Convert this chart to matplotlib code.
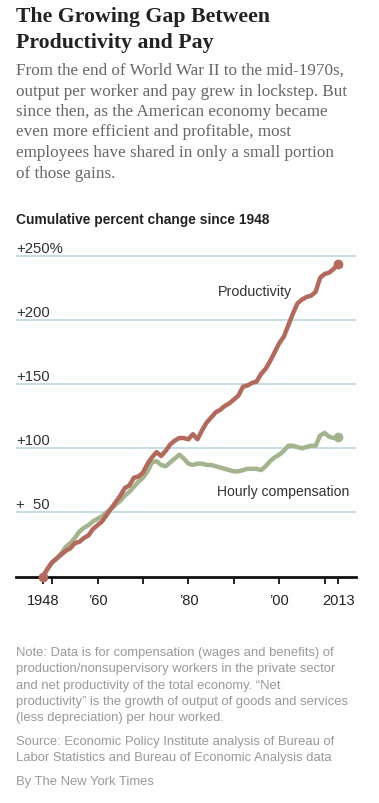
import matplotlib
matplotlib.use("Agg")
import matplotlib.pyplot as plt

# Data, cumulative percent change since 1948
years = list(range(1948, 2014))
productivity = [
    0, 6, 11, 14, 17, 20, 22, 26, 27, 30,
    32, 37, 40, 43, 48, 53, 58, 63, 69, 71,
    77, 78, 81, 88, 93, 97, 94, 98, 103, 106,
    108, 108, 107, 111, 107, 114, 120, 124, 128, 130,
    133, 135, 138, 141, 148, 149, 151, 152, 158, 162,
    168, 175, 182, 187, 196, 205, 213, 216, 218, 219,
    222, 233, 236, 237, 240, 243.7,
]
compensation = [
    0, 6, 11, 14, 18, 23, 26, 30, 35, 38,
    40, 43, 45, 47, 50, 53, 56, 59, 63, 66,
    70, 74, 77, 82, 89, 90, 87, 86, 89, 92,
    95, 92, 88, 87, 88, 88, 87, 87, 86, 85,
    84, 83, 82, 82, 83, 84, 84, 84, 83, 86,
    90, 93, 95, 98, 102, 102, 101, 100, 101, 102,
    102, 110, 112, 109, 108, 109,
]

y_ticks = [50, 100, 150, 200, 250]
y_labels = ["+  50", "+100", "+150", "+200", "+250%"]
x_ticks = [1948, 1950, 1960, 1970, 1980, 1990, 2000, 2010, 2013]
x_labels = ["1948", "", "\u201960", "", "\u201980", "", "\u201900", "", "2013"]

W, H = 379, 804
RED = "#b3695b"
GREEN = "#a3b48e"
GRID = "#bfd6e1"
SANS = "Liberation Sans"
SERIF = "Liberation Serif"


def fx(px):
    return px / W


def fy(py):
    return 1 - py / H


fig = plt.figure(figsize=(W / 100, H / 100), dpi=100)
fig.patch.set_facecolor("white")

# ── header ──────────────────────────────────────────────────────────────────
for i, line in enumerate(["The Growing Gap Between", "Productivity and Pay"]):
    fig.text(fx(16), fy(17 + i * 26), line, family=SERIF, fontweight="bold",
             fontsize=15.7, color="#222222", va="center", ha="left")

sub = [
    "From the end of World War II to the mid-1970s,",
    "output per worker and pay grew in lockstep. But",
    "since then, as the American economy became",
    "even more efficient and profitable, most",
    "employees have shared in only a small portion",
    "of those gains.",
]
for i, line in enumerate(sub):
    fig.text(fx(16), fy(71 + i * 20.5), line, family=SERIF, fontsize=12.3,
             color="#666666", va="center", ha="left")

fig.text(fx(16), fy(220), "Cumulative percent change since 1948", family=SANS,
         fontweight="bold", fontsize=9.9, color="#222222", va="center", ha="left")

# ── chart ───────────────────────────────────────────────────────────────────
top_px, bot_px = 250, 577.5
ax = fig.add_axes([fx(16), fy(bot_px), fx(356) - fx(16), (bot_px - top_px) / H])
px_per_pct = (577.5 - 257) / 250
ax.set_ylim(0, (bot_px - top_px) / px_per_pct)
px_per_year = (338.3 - 43) / 65
ax.set_xlim(1948 - (43 - 16) / px_per_year, 1948 + (356 - 43) / px_per_year)

for v in y_ticks:
    ax.axhline(v, color=GRID, lw=1.2, zorder=1)
ax.set_yticks([])
for v, lab in zip(y_ticks, y_labels):
    ax.annotate(lab, xy=(0, v), xycoords=("axes fraction", "data"),
                xytext=(0, 8), textcoords="offset pixels", family=SANS,
                fontsize=10.7, color="#333333", va="center", ha="left")

ax.plot(years, compensation, color=GREEN, lw=3.2, solid_capstyle="round",
        solid_joinstyle="round", zorder=3)
ax.plot(years, productivity, color=RED, lw=3.2, solid_capstyle="round",
        solid_joinstyle="round", zorder=4)
ax.plot(years[-1], compensation[-1], "o", color=GREEN, ms=6, zorder=5,
        clip_on=False)
ax.plot(years[-1], productivity[-1], "o", color=RED, ms=6, zorder=5,
        clip_on=False)
ax.plot(years[0], productivity[0], "o", color=RED, ms=6, zorder=6,
        clip_on=False)

ax.text(2002.8, (577.5 - 291.7) / px_per_pct, "Productivity", family=SANS,
        fontsize=10.3, color="#333333", ha="right", va="center")
ax.text(2015.4, (577.5 - 491.7) / px_per_pct, "Hourly compensation",
        family=SANS, fontsize=10.1, color="#333333", ha="right", va="center")

for s in ["top", "right", "left"]:
    ax.spines[s].set_visible(False)
ax.spines["bottom"].set_color("#111111")
ax.spines["bottom"].set_linewidth(2)
ax.spines["bottom"].set_zorder(2)
ax.set_xticks(x_ticks)
ax.set_xticklabels(x_labels)
ax.tick_params(axis="x", length=5, width=1.3, color="#111111", pad=7,
               labelsize=10.5, labelcolor="#222222")
for t in ax.get_xticklabels():
    t.set_family(SANS)
ax.set_facecolor("none")

# ── notes ───────────────────────────────────────────────────────────────────
notes = [
    "Note: Data is for compensation (wages and benefits) of",
    "production/nonsupervisory workers in the private sector",
    "and net productivity of the total economy. \u201cNet",
    "productivity\u201d is the growth of output of goods and services",
    "(less depreciation) per hour worked.",
]
for i, line in enumerate(notes):
    fig.text(fx(16), fy(653.3 + i * 16.1), line, family=SANS, fontsize=9.4,
             color="#999999", va="center", ha="left")
for i, line in enumerate([
    "Source: Economic Policy Institute analysis of Bureau of",
    "Labor Statistics and Bureau of Economic Analysis data",
]):
    fig.text(fx(16), fy(742.3 + i * 15.5), line, family=SANS, fontsize=9.4,
             color="#999999", va="center", ha="left")
fig.text(fx(16), fy(782.3), "By The New York Times", family=SANS, fontsize=9.4,
         color="#999999", va="center", ha="left")

fig.savefig("out.png", dpi=100)
